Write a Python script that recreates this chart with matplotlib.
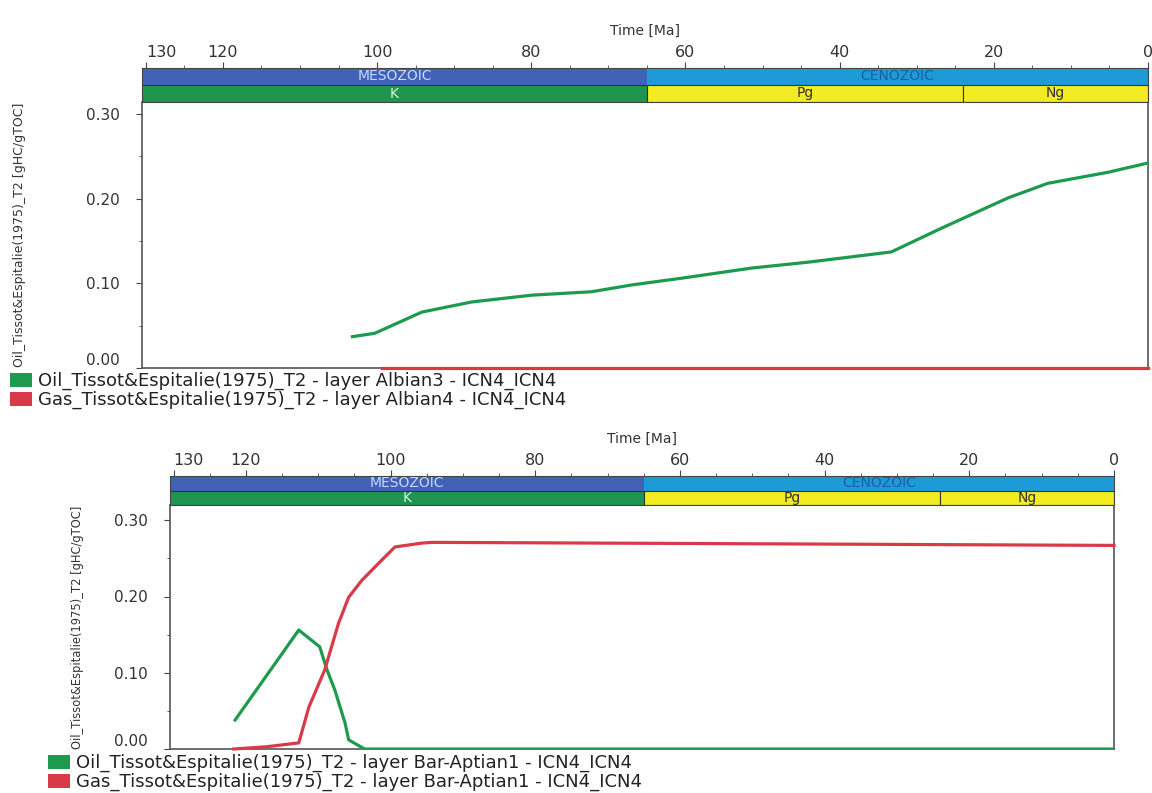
import matplotlib.pyplot as plt
from matplotlib.patches import Patch
from matplotlib.ticker import MultipleLocator, FormatStrFormatter

plt.rcParams['font.family'] = ['DejaVu Sans']

# geological time scale (Ma)
era_names = ['MESOZOIC', 'CENOZOIC']
era_from = [145, 65]
era_to = [65, 0]
era_colors = ['#4262b8', '#1f9ad8']
era_text = ['#c8d8ff', '#1d5f9f']
period_names = ['K', 'Pg', 'Ng']
period_from = [145, 65, 24]
period_to = [65, 24, 0]
period_colors = ['#1f9650', '#f3ec22', '#f3ec22']
period_text = ['#d8f0e0', '#333333', '#333333']

x_major = [130, 120, 100, 80, 60, 40, 20, 0]

# upper panel: layer Albian3 / Albian4
top_oil_age = [103.2, 100.3, 94.2, 87.7, 79.9, 72.2, 67.0, 60.5, 51.4, 44.0, 33.3, 26.8, 18.1, 13.0, 5.2, 0.0]
top_oil_val = [0.037, 0.041, 0.066, 0.078, 0.086, 0.090, 0.098, 0.106, 0.118, 0.125, 0.137, 0.165, 0.201, 0.218, 0.231, 0.242]
top_gas_age = [99.4, 0.0]
top_gas_val = [0.0, 0.0]
top_labels = ['Oil_Tissot&Espitalie(1975)_T2 - layer Albian3 - ICN4_ICN4',
              'Gas_Tissot&Espitalie(1975)_T2 - layer Albian4 - ICN4_ICN4']

# lower panel: layer Bar-Aptian1
bot_oil_age = [121.5, 112.7, 109.8, 108.8, 107.7, 106.3, 105.8, 103.6, 0.0]
bot_oil_val = [0.038, 0.156, 0.134, 0.104, 0.077, 0.034, 0.012, 0.0, 0.0]
bot_gas_age = [121.7, 117.1, 112.7, 111.3, 109.1, 107.2, 105.8, 104.0, 101.2, 99.4, 95.7, 94.3, 46.1, 0.0]
bot_gas_val = [0.0, 0.003, 0.008, 0.055, 0.104, 0.165, 0.199, 0.221, 0.248, 0.265, 0.270, 0.271, 0.269, 0.267]
bot_labels = ['Oil_Tissot&Espitalie(1975)_T2 - layer Bar-Aptian1 - ICN4_ICN4',
              'Gas_Tissot&Espitalie(1975)_T2 - layer Bar-Aptian1 - ICN4_ICN4']

oil_color = '#1e9a4e'
gas_color = '#d93a4a'
ylabel = 'Oil_Tissot&Espitalie(1975)_T2 [gHC/gTOC]'

W, H = 1152, 793
fig = plt.figure(figsize=(W / 100, H / 100), dpi=100)


def px(x0, y0, x1, y1):
    # pixel box -> figure fraction rect
    return [x0 / W, 1 - y1 / H, (x1 - x0) / W, (y1 - y0) / H]


def panel(box, band_top, xmax, ymax, oil_age, oil_val, gas_age, gas_val, labels, ylab_x, ylab_size, leg_xy):
    x0, y0, x1, y1 = box
    ax = fig.add_axes(px(x0, y0, x1, y1))
    band = fig.add_axes(px(x0, band_top, x1, y0), sharex=ax)

    ax.plot(oil_age, oil_val, color=oil_color, lw=2.3, zorder=3)
    ax.plot(gas_age, gas_val, color=gas_color, lw=2.3, zorder=3, clip_on=False)
    ax.set_xlim(xmax, 0)
    ax.set_ylim(0, ymax)
    ax.set_yticks([0, 0.1, 0.2, 0.3])
    ax.yaxis.set_minor_locator(MultipleLocator(0.05))
    ax.yaxis.set_major_formatter(FormatStrFormatter('%.2f'))
    ax.tick_params(axis='y', which='major', length=4, pad=12, labelsize=11, colors='#444444', labelcolor='#333333')
    ax.tick_params(axis='y', which='minor', length=2, colors='#444444')
    ax.tick_params(axis='x', which='both', bottom=False, labelbottom=False)
    # lift the 0.00 label a little, as in the source chart
    ax.get_yticklabels()[0].set_va('bottom')
    ax.spines['top'].set_visible(False)
    for s in ['left', 'right', 'bottom']:
        ax.spines[s].set_color('#555555')
        ax.spines[s].set_linewidth(1.2)

    # time scale bands
    band.set_ylim(0, 2)
    for name, a, b, c, tc in zip(era_names, era_from, era_to, era_colors, era_text):
        band.barh(1.5, b - a, left=a, height=1, color=c, edgecolor='none')
        lo, hi = max(b, 0), min(a, xmax)
        band.text((lo + hi) / 2, 1.5, name, ha='center', va='center', fontsize=10, color=tc)
    for name, a, b, c, tc in zip(period_names, period_from, period_to, period_colors, period_text):
        band.barh(0.5, b - a, left=a, height=1, color=c, edgecolor='#333333', lw=0.8)
        lo, hi = max(b, 0), min(a, xmax)
        band.text((lo + hi) / 2, 0.5, name, ha='center', va='center', fontsize=10, color=tc)
    band.set_yticks([])
    for s in band.spines.values():
        s.set_color('#444444')
        s.set_linewidth(0.8)
    band.xaxis.set_ticks_position('top')
    band.xaxis.set_label_position('top')
    band.set_xticks(x_major)
    band.xaxis.set_minor_locator(MultipleLocator(5))
    band.tick_params(axis='x', which='major', length=4, pad=2, labelsize=11.5, colors='#444444', labelcolor='#333333')
    band.tick_params(axis='x', which='minor', length=2, colors='#444444')
    band.get_xticklabels()[0].set_ha('left')
    band.set_xlabel('Time [Ma]', fontsize=10, labelpad=7, color='#333333')

    fig.text(ylab_x / W, 1 - ((y0 + y1) / 2) / H, ylabel, rotation=90, ha='center', va='center',
             fontsize=ylab_size, color='#333333')

    handles = [Patch(facecolor=oil_color, edgecolor='none'), Patch(facecolor=gas_color, edgecolor='none')]
    fig.legend(handles, labels, loc='upper left', bbox_to_anchor=(leg_xy[0] / W, 1 - leg_xy[1] / H),
               frameon=False, fontsize=13, handlelength=1.2, handleheight=0.8, handletextpad=0.35,
               labelspacing=0.05, borderpad=0, borderaxespad=0, labelcolor='#222222')
    return ax


panel((142, 102, 1148, 368), 68, 130.5, 0.314, top_oil_age, top_oil_val, top_gas_age, top_gas_val,
      top_labels, 20, 9, (10, 372))
panel((170, 505, 1114, 749), 476, 130.5, 0.320, bot_oil_age, bot_oil_val, bot_gas_age, bot_gas_val,
      bot_labels, 78, 8.3, (48, 754))

fig.savefig('out.png', dpi=100)
